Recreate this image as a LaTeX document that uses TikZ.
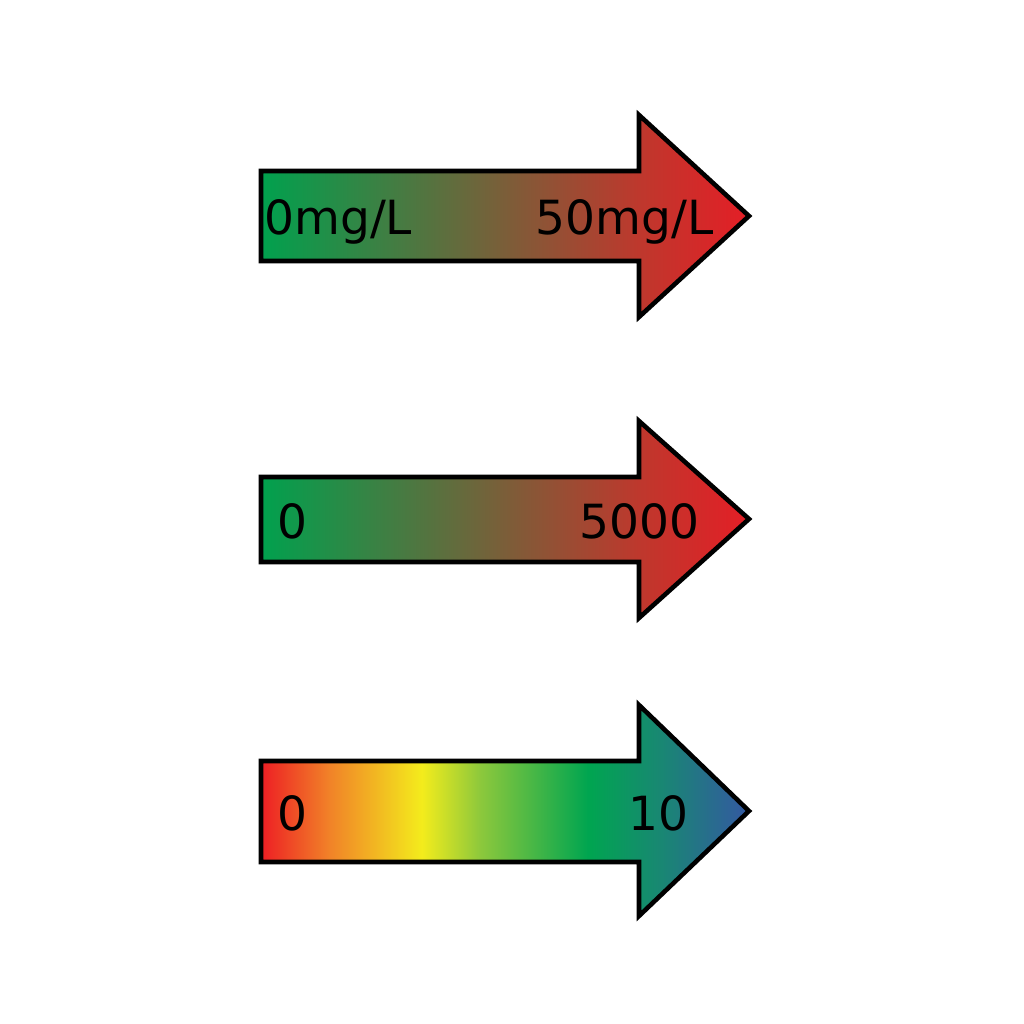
\documentclass[tikz,border=0pt]{standalone}
\usepackage{fontspec}
\setmainfont{DejaVu Sans}
\definecolor{gA}{RGB}{0,161,78}
\definecolor{bA}{RGB}{116,98,58}
\definecolor{rA}{RGB}{190,56,45}
\definecolor{rB}{RGB}{228,30,38}
\definecolor{cR}{RGB}{237,30,36}
\definecolor{cO}{RGB}{241,130,40}
\definecolor{cY}{RGB}{243,236,28}
\definecolor{cL}{RGB}{140,200,60}
\definecolor{cG}{RGB}{0,165,80}
\definecolor{cT}{RGB}{25,135,115}
\definecolor{cB}{RGB}{52,88,162}
% bp = 25 + 50*(x-261)/488
\pgfdeclarehorizontalshading{greenred}{100bp}{color(0bp)=(gA); color(25bp)=(gA); color(48.5bp)=(bA); color(63.7bp)=(rA); color(75bp)=(rB); color(100bp)=(rB)}
\pgfdeclarehorizontalshading{rainbow}{100bp}{color(0bp)=(cR); color(25bp)=(cR); color(32bp)=(cO); color(41.5bp)=(cY); color(47.5bp)=(cL); color(58.5bp)=(cG); color(66bp)=(cT); color(75bp)=(cB); color(100bp)=(cB)}
\tikzset{
  arrowbox/.style={draw=black, line width=2.6pt, line join=miter, miter limit=10},
  lbl/.style={inner sep=0pt, font=\fontsize{26.8pt}{31pt}\selectfont, text=black}
}
\begin{document}
\begin{tikzpicture}[x=0.02cm, y=-0.02cm]
\useasboundingbox (0,0) rectangle (1024,1024);
% arrow 1
\draw[arrowbox, shading=greenred] (261,171) -- (639,171) -- (639,115) -- (749,216) -- (639,317) -- (639,261) -- (261,261) -- cycle;
\node[lbl, anchor=base west] (a1l) at (264,234) {0mg/L};
\node[lbl, anchor=base east] (a1r) at (714,234) {50mg/L};
% arrow 2
\draw[arrowbox, shading=greenred] (261,477) -- (639,477) -- (639,421) -- (749,519) -- (639,618) -- (639,562) -- (261,562) -- cycle;
\node[lbl, anchor=base west] (a2l) at (277,538) {0};
\node[lbl, anchor=base east] (a2r) at (700,538) {5000};
% arrow 3
\draw[arrowbox, shading=rainbow] (261,761) -- (639,761) -- (639,705) -- (749,811) -- (639,916) -- (639,862) -- (261,862) -- cycle;
\node[lbl, anchor=base west] (a3l) at (277,830) {0};
\node[lbl, anchor=base east] (a3r) at (689,830) {10};
\end{tikzpicture}
\end{document}
